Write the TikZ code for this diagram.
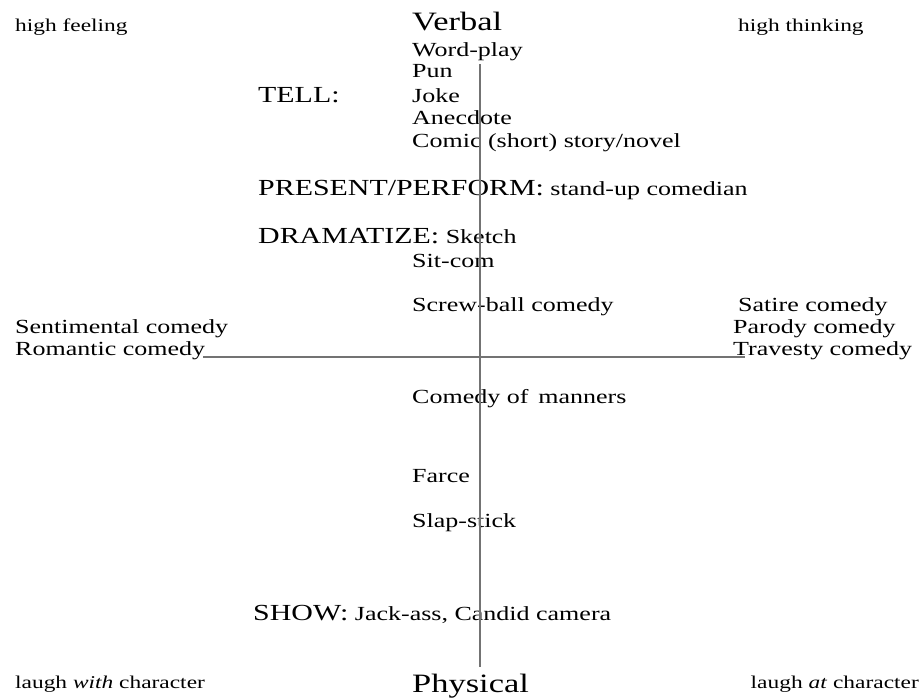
\documentclass[tikz,border=0pt]{standalone}
\usepackage{fontspec}
\setmainfont{Liberation Serif}[FakeStretch=1.3]
\usepackage{tikz}
\usetikzlibrary{positioning}
\pgfdeclarelayer{nodelayer}
\pgfdeclarelayer{edgelayer}
\pgfsetlayers{nodelayer,edgelayer,main}
\tikzset{
    none/.style = {inner sep=0pt},
    txt/.style = {inner sep=0pt, anchor=base west, font=\fontsize{20}{24}\selectfont},
    corner/.style = {inner sep=0pt, anchor=base west, font=\fontsize{18}{22}\selectfont},
    mode/.style = {inner sep=0pt, anchor=base west, font=\fontsize{23}{27}\selectfont},
    pole/.style = {inner sep=0pt, anchor=base west, font=\fontsize{26.5}{30}\selectfont},
    axis/.style = {line width=2pt, draw=black!55}
}
\newcommand{\modetxt}[1]{{\fontsize{23}{27}\selectfont #1}}

\begin{document}
\begin{tikzpicture}[x=1pt, y=-1pt]
    \useasboundingbox (0, 0) rectangle (924, 699);
    \begin{pgfonlayer}{nodelayer}
        % corners
        \node [style=corner] (0) at (15, 31) {high feeling};
        \node [style=corner] (1) at (738, 31) {high thinking};
        \node [style=corner] (2) at (15, 688) {laugh \textit{with} character};
        \node [style=corner, anchor=base east] (3) at (919, 688) {laugh \textit{at} character};
        % poles
        \node [style=pole] (4) at (412, 30) {Verbal};
        \node [style=pole] (5) at (412, 692) {Physical};
        % modes
        \node [style=mode] (6) at (258, 102) {TELL:};
        \node [style=txt] (7) at (258, 195) {\modetxt{PRESENT/PERFORM:} stand-up comedian};
        \node [style=txt] (8) at (258, 243) {\modetxt{DRAMATIZE:} Sketch};
        \node [style=txt] (9) at (253, 620) {\modetxt{SHOW:} Jack-ass, Candid camera};
        % column
        \node [style=txt] (10) at (412, 56) {Word-play};
        \node [style=txt] (11) at (412, 77) {Pun};
        \node [style=txt] (12) at (412, 102) {Joke};
        \node [style=txt] (13) at (412, 124) {Anecdote};
        \node [style=txt] (14) at (412, 147) {Comic (short) story/novel};
        \node [style=txt] (15) at (412, 267) {Sit-com};
        \node [style=txt] (16) at (412, 311) {Screw-ball comedy};
        \node [style=txt] (17) at (412, 403) {Comedy of\, manners};
        \node [style=txt] (18) at (412, 482) {Farce};
        \node [style=txt] (19) at (412, 527) {Slap-stick};
        % sides
        \node [style=txt] (20) at (15, 333) {Sentimental comedy};
        \node [style=txt] (21) at (15, 355) {Romantic comedy};
        \node [style=txt] (22) at (738, 311) {Satire comedy};
        \node [style=txt] (23) at (733, 333) {Parody comedy};
        \node [style=txt] (24) at (733, 355) {Travesty comedy};
        % axis ends
        \node [style=none] (25) at (480, 64) {};
        \node [style=none] (26) at (480, 667) {};
        \node [style=none] (27) at (203, 357) {};
        \node [style=none] (28) at (745, 357) {};
    \end{pgfonlayer}
    \begin{pgfonlayer}{edgelayer}
        \draw [style=axis] (25.center) to (26.center);
        \draw [style=axis] (27.center) to (28.center);
    \end{pgfonlayer}
\end{tikzpicture}
\end{document}
